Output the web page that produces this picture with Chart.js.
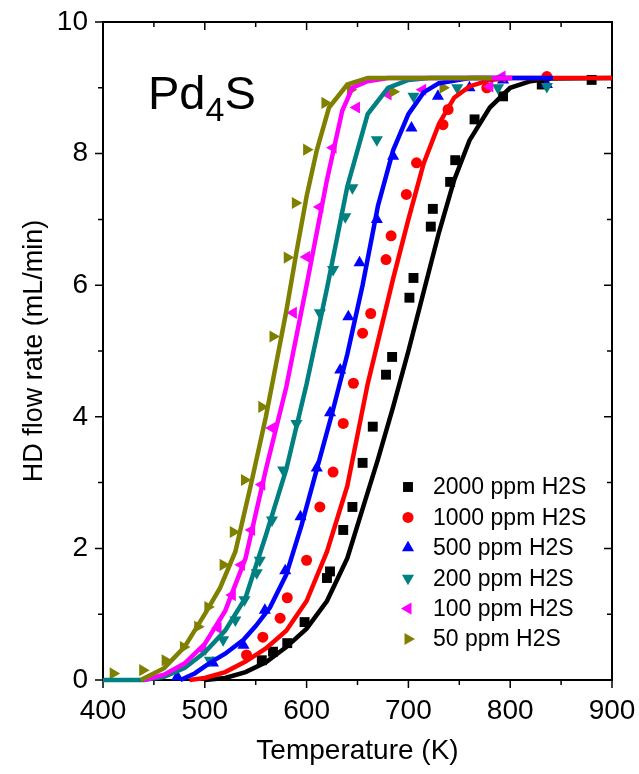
<!DOCTYPE html>
<html>
<head>
<meta charset="utf-8">
<script src="https://cdn.jsdelivr.net/npm/chart.js@4.4.1/dist/chart.umd.min.js"></script>
<style>
  html, body { margin: 0; padding: 0; background: #fff; }
</style>
</head>
<body>
<canvas id="hdChart" width="639" height="774"></canvas>
<script>
// series names (legend order)
const seriesLabels = ["2000 ppm H2S", "1000 ppm H2S", "500 ppm H2S", "200 ppm H2S", "100 ppm H2S", "50 ppm H2S"];

// measured points [T (K), HD flow (mL/min)]
const pts2000 = [[556,0.3],[567,0.43],[581,0.56],[598,0.88],[620,1.55],[623,1.65],[636,2.28],[645,2.63],[655,3.3],[665,3.85],[678,4.64],[684,4.91],[701,5.81],[705,6.11],[722,6.89],[724,7.16],[741,7.57],[746,7.9],[765,8.52],[793,8.87],[831,9.05],[880,9.12]];
const pts1000 = [[541,0.38],[557,0.65],[574,0.94],[581,1.25],[600,1.82],[613,2.63],[626,3.16],[636,3.9],[646,4.51],[655,5.27],[663,5.57],[678,6.39],[683,6.75],[698,7.38],[708,7.86],[734,8.44],[739,8.67],[777,9.0],[836,9.17]];
const pts500 = [[473,0.05],[508,0.26],[538,0.53],[559,1.06],[579,1.66],[594,2.48],[610,3.22],[623,4.06],[633,4.71],[641,5.52],[652,6.34],[669,7.0],[685,7.96],[703,8.39],[729,8.87],[760,9.0],[793,9.12],[836,9.05]];
const pts200 = [[505,0.3],[518,0.61],[530,0.91],[539,1.22],[551,1.63],[554,1.82],[566,2.43],[577,3.19],[590,3.9],[613,5.58],[626,6.24],[638,7.04],[645,7.48],[669,8.21],[705,8.87],[748,9.0],[788,9.0],[836,9.02]];
const pts100 = [[498,0.46],[513,0.79],[527,1.29],[536,1.75],[546,2.28],[556,2.97],[566,3.83],[587,5.58],[600,6.43],[613,7.19],[626,8.09],[649,8.7],[680,8.9],[714,8.97],[780,9.02],[792,9.17]];
const pts50 = [[410,0.1],[439,0.15],[461,0.3],[479,0.5],[493,0.81],[503,1.11],[518,1.75],[528,2.25],[539,3.04],[556,4.15],[567,5.22],[581,6.42],[589,7.25],[600,8.06],[618,8.77],[643,8.97],[685,8.94],[734,9.0]];

// fitted curves [T (K), HD flow (mL/min)]
const fit2000 = [[500,0],[520,0.03],[540,0.12],[560,0.27],[580,0.5],[600,0.78],[620,1.2],[640,1.85],[655,2.6],[670,3.35],[685,4.15],[700,5.0],[715,5.9],[730,6.8],[745,7.6],[760,8.2],[780,8.7],[800,9.0],[820,9.1],[840,9.14],[900,9.15]];
const fit1000 = [[485,0],[500,0.03],[520,0.12],[540,0.28],[560,0.48],[580,0.75],[600,1.2],[620,1.95],[640,2.95],[660,4.5],[685,6.1],[700,7.0],[715,7.85],[730,8.45],[745,8.85],[760,9.02],[780,9.12],[800,9.15],[900,9.15]];
const fit500 = [[476,0],[490,0.1],[505,0.26],[520,0.4],[538,0.61],[550,0.82],[564,1.1],[580,1.6],[595,2.35],[610,3.2],[625,4.05],[640,4.95],[655,6.0],[670,7.2],[685,8.05],[700,8.6],[715,8.93],[730,9.07],[760,9.15],[842,9.15]];
const fit200 = [[400,0],[440,0],[460,0.05],[480,0.18],[500,0.42],[520,0.75],[540,1.25],[560,2.2],[580,3.2],[600,4.5],[620,5.95],[640,7.5],[660,8.6],[680,9.0],[700,9.12],[720,9.15],[800,9.15]];
const fit100 = [[440,0],[460,0.08],[480,0.25],[500,0.55],[520,1.05],[540,1.85],[560,3.2],[580,4.45],[600,6.0],[620,7.6],[635,8.65],[645,9.0],[660,9.1],[680,9.15],[802,9.15]];
const fit50 = [[437,0],[460,0.18],[480,0.5],[500,1.0],[515,1.4],[530,1.95],[545,2.95],[560,4.0],[570,4.8],[580,5.6],[590,6.5],[600,7.35],[610,8.05],[622,8.7],[640,9.05],[660,9.15],[782,9.15]];

const xTicks = [400, 500, 600, 700, 800, 900];
const yTicks = [0, 2, 4, 6, 8, 10];

const colors = ["#000000", "#ff0000", "#0000ff", "#008080", "#ff00ff", "#808000"];
const shapes = [
    { style: "rect", rot: 0, r: 7 },
    { style: "circle", rot: 0, r: 5.5 },
    { style: "triangle", rot: 0, r: 7 },
    { style: "triangle", rot: 180, r: 7 },
    { style: "triangle", rot: -90, r: 7 },
    { style: "triangle", rot: 90, r: 7 }
];

const FONT = "Arial, 'Liberation Sans', sans-serif";
const allPts = [pts2000, pts1000, pts500, pts200, pts100, pts50];
const allFits = [fit2000, fit1000, fit500, fit200, fit100, fit50];
const toXY = arr => arr.map(p => ({ x: p[0], y: p[1] }));

const datasets = [];
allPts.forEach((pts, i) => {
    datasets.push({
        type: "scatter",
        label: seriesLabels[i],
        data: toXY(pts),
        pointStyle: shapes[i].style,
        rotation: shapes[i].rot,
        pointRadius: shapes[i].r,
        pointHoverRadius: shapes[i].r,
        borderWidth: 0,
        backgroundColor: colors[i],
        borderColor: colors[i],
        showLine: false,
        order: 20 - i,
        clip: 8
    });
});
allFits.forEach((fit, i) => {
    datasets.push({
        type: "line",
        label: "fit " + seriesLabels[i],
        data: toXY(fit),
        borderColor: colors[i],
        borderWidth: 4.5,
        pointRadius: 0,
        fill: false,
        tension: 0,
        order: 10 - i,
        clip: 8
    });
});

// axes frame + minor/major tick marks
const framePlugin = {
    id: "frame",
    beforeDatasetsDraw(chart) {
        const ctx = chart.ctx;
        const { left, right, top, bottom } = chart.chartArea;
        const xs = chart.scales.x, ys = chart.scales.y;
        ctx.save();
        ctx.strokeStyle = "#000";
        ctx.lineWidth = 2;
        ctx.strokeRect(left, top, right - left, bottom - top);
        ctx.lineWidth = 1.5;
        ctx.beginPath();
        for (let t = 400; t <= 900; t += 50) {
            const px = xs.getPixelForValue(t);
            const len = t % 100 === 0 ? 8 : 5;
            ctx.moveTo(px, bottom); ctx.lineTo(px, bottom + len);
            ctx.moveTo(px, top); ctx.lineTo(px, top + len);
        }
        for (let v = 0; v <= 10; v += 1) {
            const py = ys.getPixelForValue(v);
            const len = v % 2 === 0 ? 8 : 5;
            ctx.moveTo(left, py); ctx.lineTo(left - len, py);
            ctx.moveTo(right, py); ctx.lineTo(right - len, py);
        }
        ctx.stroke();
        ctx.restore();
    }
};

function drawMarker(ctx, shape, x, y, color) {
    ctx.fillStyle = color;
    ctx.beginPath();
    if (shape.style === "rect") {
        const s = Math.SQRT1_2 * shape.r;
        ctx.rect(x - s, y - s, 2 * s, 2 * s);
    } else if (shape.style === "circle") {
        ctx.arc(x, y, shape.r, 0, Math.PI * 2);
    } else {
        let a = shape.rot * Math.PI / 180;
        for (let k = 0; k < 3; k++) {
            const px = x + Math.sin(a) * shape.r, py = y - Math.cos(a) * shape.r;
            if (k === 0) ctx.moveTo(px, py); else ctx.lineTo(px, py);
            a += 2 * Math.PI / 3;
        }
        ctx.closePath();
    }
    ctx.fill();
}

// legend inside the plot + Pd4S label
const annotPlugin = {
    id: "annot",
    afterDraw(chart) {
        const ctx = chart.ctx;
        ctx.save();
        ctx.textBaseline = "middle";
        ctx.textAlign = "left";
        ctx.font = "23px " + FONT;
        seriesLabels.forEach((lab, i) => {
            const y = 487 + i * 30.4;
            drawMarker(ctx, shapes[i], 408, y, colors[i]);
            ctx.fillStyle = "#000";
            ctx.fillText(lab, 433, y + 1);
        });

        ctx.textBaseline = "alphabetic";
        ctx.fillStyle = "#000";
        ctx.font = "47px " + FONT;
        let x = 148;
        ctx.fillText("Pd", x, 109);
        x += ctx.measureText("Pd").width;
        ctx.font = "34px " + FONT;
        ctx.fillText("4", x, 121);
        x += ctx.measureText("4").width;
        ctx.font = "47px " + FONT;
        ctx.fillText("S", x, 109);
        ctx.restore();
    }
};

new Chart(document.getElementById("hdChart").getContext("2d"), {
    data: { datasets },
    options: {
        responsive: false,
        animation: false,
        events: [],
        layout: { padding: { top: 22, right: 27, left: 0, bottom: 0 } },
        plugins: { legend: { display: false }, tooltip: { enabled: false } },
        scales: {
            x: {
                type: "linear",
                min: 400, max: 900,
                afterFit: s => { s.height = 94; s.paddingLeft = 0; s.paddingRight = 0; },
                afterBuildTicks: s => { s.ticks = xTicks.map(v => ({ value: v })); },
                grid: { display: false, drawTicks: false },
                border: { display: false },
                ticks: { color: "#000", font: { family: FONT, size: 28 }, padding: 14, maxRotation: 0 },
                title: { display: true, text: "Temperature (K)", color: "#000", font: { family: FONT, size: 28 }, padding: { top: 0, bottom: 6 } }
            },
            y: {
                type: "linear",
                min: 0, max: 10,
                afterFit: s => { s.width = 103; s.paddingTop = 0; s.paddingBottom = 0; },
                afterBuildTicks: s => { s.ticks = yTicks.map(v => ({ value: v })); },
                grid: { display: false, drawTicks: false },
                border: { display: false },
                ticks: { color: "#000", font: { family: FONT, size: 28 }, padding: 15 },
                title: { display: true, text: "HD flow rate (mL/min)", color: "#000", font: { family: FONT, size: 27 }, padding: { top: 18, bottom: 0 } }
            }
        }
    },
    plugins: [framePlugin, annotPlugin]
});
</script>
</body>
</html>
